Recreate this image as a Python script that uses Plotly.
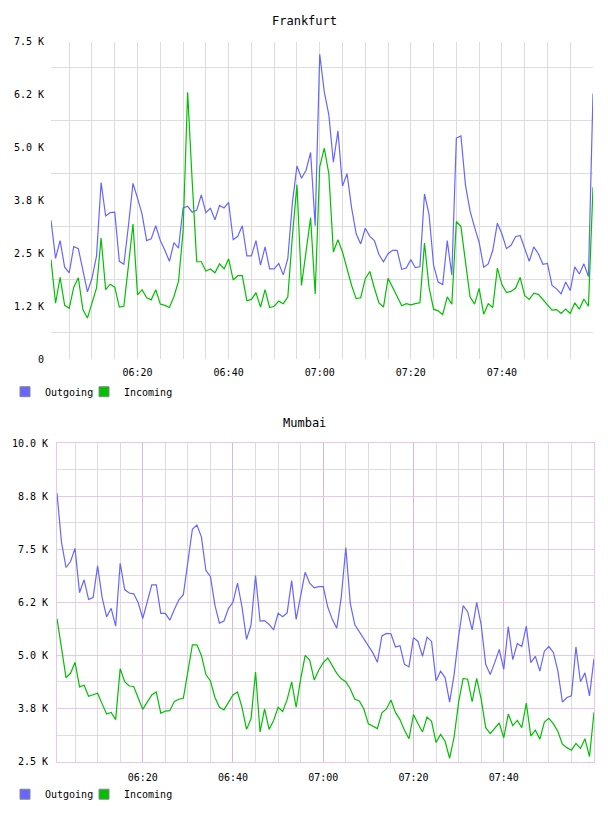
import pandas as pd
import plotly.graph_objects as go

# ---------------- data (values in thousands) ----------------
start_time = "2024-01-01 06:01:00"
n_points = 120
times = pd.date_range(start_time, periods=n_points, freq="min")

fra_out = [3.28,2.38,2.80,2.17,2.04,2.66,2.61,2.11,1.59,1.91,2.44,4.17,3.38,3.46,3.47,2.31,2.24,3.15,4.15,3.80,
           3.42,2.80,2.84,3.15,2.80,2.57,2.31,2.75,2.62,3.57,3.61,3.47,3.52,3.88,3.46,3.56,3.29,3.63,3.57,3.70,
           2.82,2.90,3.15,2.44,2.44,2.80,2.22,2.65,2.13,2.13,2.26,1.99,2.38,3.69,4.56,4.27,4.46,4.88,3.15,7.20,
           6.31,5.77,4.65,5.39,4.09,4.38,3.57,2.96,2.72,3.09,2.90,2.80,2.47,2.30,2.49,2.57,2.57,2.12,2.15,2.35,
           2.16,2.18,3.90,3.42,2.22,1.82,1.76,2.80,1.99,5.22,5.27,4.11,3.50,3.11,2.76,2.17,2.25,2.57,3.21,2.96,
           2.61,2.69,2.89,2.92,2.61,2.31,2.65,2.49,2.24,2.26,1.74,1.66,1.54,1.82,1.62,2.18,2.01,2.25,1.95,6.27]
fra_in = [2.35,1.32,1.93,1.27,1.20,1.70,1.92,1.17,0.97,1.34,1.68,2.86,1.64,1.77,1.70,1.23,1.25,2.21,3.19,1.52,
          1.64,1.45,1.40,1.64,1.30,1.27,1.22,1.48,1.84,3.01,6.30,4.20,2.30,2.30,2.08,2.13,2.04,2.25,2.13,2.37,
          1.87,1.97,1.97,1.38,1.41,1.57,1.23,1.64,1.22,1.25,1.37,1.31,1.47,2.90,4.12,1.74,2.53,3.34,1.54,4.54,
          4.98,4.38,2.53,2.82,2.53,2.15,1.74,1.43,1.45,1.90,2.07,1.68,1.33,1.23,1.91,1.70,1.47,1.26,1.31,1.28,
          1.31,1.33,2.74,1.70,1.18,1.14,1.05,1.47,1.30,3.25,3.13,2.30,1.47,1.30,1.67,1.06,1.31,1.22,2.15,1.76,
          1.57,1.60,1.68,1.93,1.50,1.41,1.56,1.53,1.41,1.30,1.16,1.17,1.08,1.18,1.08,1.33,1.18,1.42,1.25,4.06]
mum_out = [8.82,7.66,7.07,7.21,7.52,6.48,6.78,6.32,6.36,7.11,6.36,5.91,6.11,5.69,7.17,6.55,6.47,6.45,6.24,5.87,
           6.26,6.66,6.66,5.99,5.99,5.83,6.08,6.31,6.43,7.17,7.97,8.07,7.79,7.00,6.86,6.18,5.76,5.81,6.11,6.25,
           6.70,6.14,5.38,5.72,6.88,5.81,5.82,5.73,5.60,5.99,5.91,6.00,6.76,5.85,6.39,6.96,6.70,6.59,6.62,6.62,
           6.14,5.85,5.64,6.38,7.54,6.22,5.72,5.56,5.37,5.21,5.06,4.84,5.46,5.52,5.51,5.20,5.23,4.79,4.73,5.42,
           5.33,4.98,5.43,5.33,4.40,4.63,4.48,3.90,4.55,5.45,6.17,6.03,5.60,6.25,5.72,4.79,4.55,4.83,5.14,4.67,
           5.68,4.90,5.28,5.21,5.69,4.83,4.98,4.63,5.10,5.21,5.07,4.63,3.90,4.01,4.05,5.20,4.38,4.59,4.05,4.92]
mum_in = [5.87,5.14,4.48,4.58,4.84,4.26,4.30,4.04,4.07,4.11,3.86,3.62,3.66,3.49,4.69,4.38,4.28,4.27,4.00,3.73,
          3.90,4.07,4.14,3.64,3.69,3.70,3.92,3.97,3.99,4.63,5.25,5.25,5.00,4.55,4.40,4.01,3.78,3.72,3.90,4.07,
          4.14,3.78,3.26,3.51,4.61,3.20,3.74,3.26,3.47,3.78,3.68,3.96,4.38,3.78,4.45,5.00,4.89,4.42,4.65,4.83,
          4.94,4.76,4.58,4.45,4.38,4.21,3.97,3.93,3.74,3.39,3.33,3.28,3.65,3.74,3.95,3.66,3.49,3.24,3.04,3.61,
          3.39,3.20,3.55,3.45,2.95,3.14,2.98,2.58,3.08,3.90,4.46,4.44,3.91,4.46,3.97,3.30,3.16,3.29,3.41,3.06,
          3.62,3.35,3.47,3.30,3.88,3.10,3.24,3.03,3.43,3.52,3.39,3.21,2.91,2.83,2.77,2.93,2.81,3.04,2.62,3.66]

x_tick_labels = ["06:20", "06:40", "07:00", "07:20", "07:40"]
fra_yticks = [0, 1.25, 2.5, 3.75, 5.0, 6.25, 7.5]
fra_ytext = ["0", "1.2 K", "2.5 K", "3.8 K", "5.0 K", "6.2 K", "7.5 K"]
mum_yticks = [2.5, 3.75, 5.0, 6.25, 7.5, 8.75, 10.0]
mum_ytext = ["2.5 K", "3.8 K", "5.0 K", "6.2 K", "7.5 K", "8.8 K", "10.0 K"]
series_names = ["Outgoing", "Incoming"]
titles = ["Frankfurt", "Mumbai"]

# ---------------- styling ----------------
W, H = 608, 816
FONT = "DejaVu Sans Mono"
BLUE = "#6666ff"
GREEN = "#00c000"
GRID = "#dddddd"
PINK = "#e8c8e8"
PINK_V = "#dab8da"

day = str(times[0].date())
xtickvals = [pd.Timestamp(f"{day} {t}") for t in x_tick_labels]
xrange = [times[0], times[-1]]
minor_x = dict(tick0=f"{day} 06:00", dtick=5 * 60 * 1000, showgrid=True, gridcolor=GRID, gridwidth=1, ticks="")

def mids(v):
    return [(a + b) / 2 for a, b in zip(v[:-1], v[1:])]

# one legend box per entry so each swatch can be placed like the original
legend_ids = [["legend", "legend2"], ["legend3", "legend4"]]
fig = go.Figure()
for k, (xa, ya, out, inc) in enumerate([("x", "y", fra_out, fra_in), ("x2", "y2", mum_out, mum_in)]):
    fig.add_trace(go.Scatter(x=times, y=out, mode="lines", line=dict(color=BLUE, width=1.2),
                             xaxis=xa, yaxis=ya, showlegend=False, hoverinfo="skip"))
    fig.add_trace(go.Scatter(x=times, y=inc, mode="lines", line=dict(color=GREEN, width=1.2),
                             xaxis=xa, yaxis=ya, showlegend=False, hoverinfo="skip"))
    for j, (name, col) in enumerate(zip(series_names, [BLUE, GREEN])):
        fig.add_trace(go.Scatter(x=[None], y=[None], mode="markers", name=name,
                                 marker=dict(symbol="square", size=10, color=col, line=dict(color="#888888", width=1)),
                                 xaxis=xa, yaxis=ya, legend=legend_ids[k][j]))

tickfont = dict(family=FONT, size=10, color="#000000")

def legend_box(xpx, ypx):
    return dict(orientation="h", x=xpx / W, xanchor="left", y=1 - ypx / H, yanchor="middle",
                font=dict(family=FONT, size=10, color="#000000"), bgcolor="rgba(0,0,0,0)", itemclick=False)

fig.update_layout(
    width=W, height=H, margin=dict(l=0, r=0, t=0, b=0),
    paper_bgcolor="white", plot_bgcolor="white",
    font=dict(family=FONT, size=10, color="#000000"),
    xaxis=dict(domain=[51 / W, 593 / W], anchor="y", type="date", range=xrange,
               tickmode="array", tickvals=xtickvals, ticktext=x_tick_labels,
               showgrid=True, gridcolor=GRID, minor=minor_x, zeroline=False, showline=False,
               ticks="", tickfont=tickfont, ticklabelstandoff=6),
    yaxis=dict(domain=[1 - 359 / H, 1 - 37 / H], anchor="x", range=[0, 7.5],
               tickmode="array", tickvals=fra_yticks, ticktext=fra_ytext, showgrid=False,
               minor=dict(tickmode="array", tickvals=mids(fra_yticks), showgrid=True, gridcolor=GRID, ticks=""),
               zeroline=False, showline=False, ticks="", tickfont=tickfont, ticklabelstandoff=6),
    xaxis2=dict(domain=[57 / W, 594 / W], anchor="y2", type="date", range=xrange,
                tickmode="array", tickvals=xtickvals, ticktext=x_tick_labels,
                showgrid=True, gridcolor=PINK_V, minor=minor_x, zeroline=False,
                showline=True, mirror=True, linecolor=PINK, linewidth=1,
                ticks="", tickfont=tickfont, ticklabelstandoff=6),
    yaxis2=dict(domain=[1 - 767 / H, 1 - 444 / H], anchor="x2", range=[2.5, 10],
                tickmode="array", tickvals=mum_yticks, ticktext=mum_ytext,
                showgrid=True, gridcolor=PINK,
                minor=dict(tickmode="array", tickvals=mids(mum_yticks), showgrid=True, gridcolor=GRID, ticks=""),
                zeroline=False, showline=True, mirror=True, linecolor=PINK, linewidth=1,
                ticks="", tickfont=tickfont, ticklabelstandoff=6),
    legend=legend_box(5, 392),
    legend2=legend_box(84, 392),
    legend3=legend_box(5, 800),
    legend4=legend_box(84, 800),
    annotations=[
        dict(text=titles[0], x=0.5, y=1 - 16 / H, xref="paper", yref="paper", showarrow=False,
             font=dict(family=FONT, size=12, color="#000000"), xanchor="center", yanchor="middle"),
        dict(text=titles[1], x=0.5, y=1 - 424 / H, xref="paper", yref="paper", showarrow=False,
             font=dict(family=FONT, size=12, color="#000000"), xanchor="center", yanchor="middle"),
    ],
)

fig.write_html("out.html")
